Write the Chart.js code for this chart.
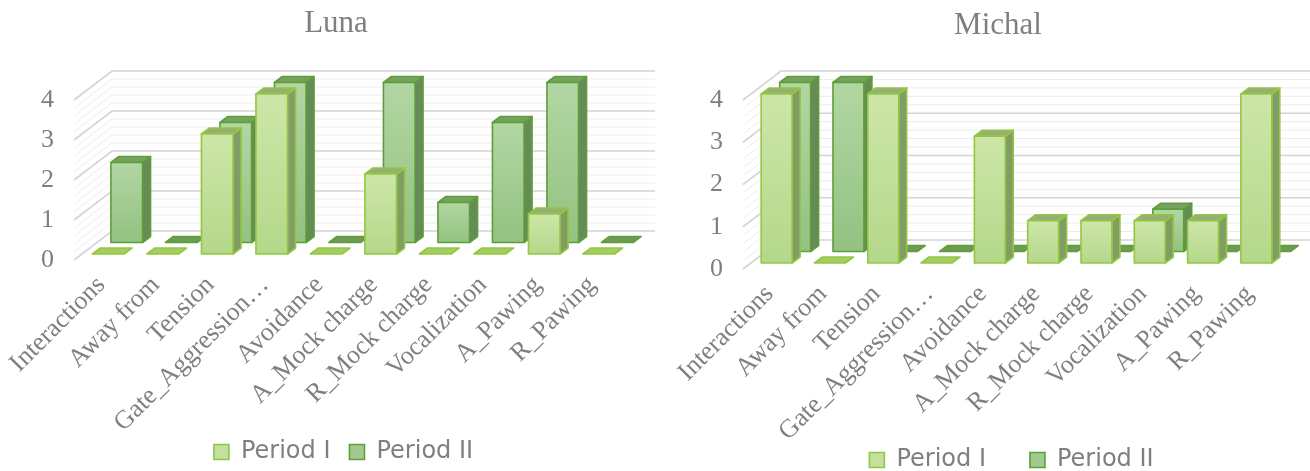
<!DOCTYPE html>
<html>
<head>
<meta charset="utf-8">
<script src="https://cdn.jsdelivr.net/npm/chart.js@4.4.1/dist/chart.umd.min.js"></script>
<style>
  html, body { margin: 0; padding: 0; background: #fff; }
  #wrap { display: flex; width: 1310px; height: 471px; }
  .cell { width: 655px; height: 471px; position: relative; }
</style>
</head>
<body>
<div id="wrap">
  <div class="cell"><canvas id="lunaChart" width="655" height="471"></canvas></div>
  <div class="cell"><canvas id="michalChart" width="655" height="471"></canvas></div>
</div>
<script>
const categories = ["Interactions", "Away from", "Tension", "Gate_Aggression…", "Avoidance",
  "A_Mock charge", "R_Mock charge", "Vocalization", "A_Pawing", "R_Pawing"];
const seriesNames = ["Period I", "Period II"];
const lunaPeriod1 = [0, 0, 3, 4, 0, 2, 0, 0, 1, 0];
const lunaPeriod2 = [2, 0, 3, 4, 0, 4, 1, 3, 4, 0];
const michalPeriod1 = [4, 0, 4, 0, 3, 1, 1, 1, 1, 4];
const michalPeriod2 = [4, 4, 0, 0, 0, 0, 0, 1, 0, 0];
const yMax = 4;

const GREY = "#7f7f7f";
const SERIF = "'Liberation Serif', 'Times New Roman', serif";
const BOX = [8, -6];     // extrusion of each column
const WALL = [38, -29];  // depth of the back wall

// look of the two series, index 0 = front row (Period I), 1 = back row (Period II)
const looks = [
  { face: ["#cde6a8", "#b4d88a"], border: "#92c741", top: "#97ae74", side: "#819c64", slab: "#a5cd62", shift: [7, -6] },
  { face: ["#b2d6a3", "#93c281"], border: "#5e9e3a", top: "#77a25e", side: "#678b56", slab: "#6e9b50", shift: [25.5, -17.5] }
];

function poly(ctx, pts) {
  ctx.beginPath();
  ctx.moveTo(pts[0][0], pts[0][1]);
  for (let i = 1; i < pts.length; i++) ctx.lineTo(pts[i][0], pts[i][1]);
  ctx.closePath();
}

function drawBox(ctx, bar, lk) {
  const p = bar.getProps(["x", "y", "base", "width"], true);
  const l = p.x - p.width / 2 + lk.shift[0];
  const r = p.x + p.width / 2 + lk.shift[0];
  const t = Math.min(p.y, p.base) + lk.shift[1];
  const b = p.base + lk.shift[1];
  const dx = BOX[0], dy = BOX[1];
  ctx.save();
  ctx.lineJoin = "round";
  ctx.strokeStyle = lk.border;
  ctx.lineWidth = 1.6;
  if (b - t < 1) {
    // zero value: only a thin floor plate
    ctx.fillStyle = lk.slab;
    poly(ctx, [[l, b], [r, b], [r + dx, b + dy], [l + dx, b + dy]]);
    ctx.fill();
    ctx.stroke();
    ctx.restore();
    return;
  }
  // side
  ctx.fillStyle = lk.side;
  poly(ctx, [[r, t], [r + dx, t + dy], [r + dx, b + dy], [r, b]]);
  ctx.fill();
  ctx.stroke();
  // top
  ctx.fillStyle = lk.top;
  poly(ctx, [[l, t], [r, t], [r + dx, t + dy], [l + dx, t + dy]]);
  ctx.fill();
  ctx.stroke();
  // front
  const g = ctx.createLinearGradient(0, t, 0, b);
  g.addColorStop(0, lk.face[0]);
  g.addColorStop(1, lk.face[1]);
  ctx.fillStyle = g;
  poly(ctx, [[l, t], [r, t], [r, b], [l, b]]);
  ctx.fill();
  ctx.stroke();
  ctx.restore();
}

const box3d = {
  id: "box3d",
  afterLayout(chart, args, opts) {
    // small nudges so title and legend sit where the original has them
    chart.titleBlock.left += opts.titleX;
    chart.titleBlock.right += opts.titleX;
    chart.legend.left += opts.legendX;
    chart.legend.right += opts.legendX;
    chart.legend.top += opts.legendY;
    chart.legend.bottom += opts.legendY;
    // let the slanted labels run down past the legend box without clipping
    chart.scales.x.bottom = chart.height;
  },
  beforeDatasetsDraw(chart) {
    const ctx = chart.ctx;
    const a = chart.chartArea;
    const y = chart.scales.y;
    ctx.save();
    const steps = Math.round(y.max * 5);
    for (let i = 0; i <= steps; i++) {
      const v = i / 5;
      const major = i % 5 === 0;
      const py = y.getPixelForValue(v);
      ctx.strokeStyle = major ? "#d4d4d4" : "#ececec";
      ctx.lineWidth = major ? 1.6 : 1;
      ctx.beginPath();
      ctx.moveTo(a.left, py);
      ctx.lineTo(a.left + WALL[0], py + WALL[1]);
      ctx.lineTo(a.right + WALL[0], py + WALL[1]);
      ctx.stroke();
    }
    ctx.restore();
  },
  beforeDatasetDraw() {
    return false; // columns are drawn as boxes below
  },
  afterDatasetsDraw(chart) {
    const ctx = chart.ctx;
    [1, 0].forEach(function (di) {
      chart.getDatasetMeta(di).data.forEach(function (bar) {
        drawBox(ctx, bar, looks[di]);
      });
    });
  }
};

function makeChart(id, title, p1, p2, cfg) {
  return new Chart(document.getElementById(id), {
    type: "bar",
    data: {
      labels: categories,
      datasets: [
        { label: seriesNames[0], data: p1, backgroundColor: "#c3e09e", borderColor: looks[0].border, borderWidth: 1.6 },
        { label: seriesNames[1], data: p2, backgroundColor: "#a2ca8f", borderColor: looks[1].border, borderWidth: 1.6 }
      ]
    },
    options: {
      responsive: false,
      animation: false,
      devicePixelRatio: 1,
      layout: { padding: { left: 0, top: 0, bottom: 0, right: cfg.padRight } },
      datasets: { bar: { grouped: false, barPercentage: 0.58, categoryPercentage: 1 } },
      scales: {
        x: {
          grid: { display: false, drawTicks: false },
          border: { display: false },
          ticks: {
            autoSkip: false, maxRotation: 45, minRotation: 45, padding: cfg.xPad,
            color: GREY, font: { family: SERIF, size: 26 }
          },
          afterFit: function (s) { s.height = cfg.xHeight; s.paddingLeft = 0; s.paddingRight = 0; }
        },
        y: {
          min: 0, max: yMax,
          grid: { display: false, drawTicks: false },
          border: { display: false },
          ticks: {
            stepSize: 1, padding: 20, color: GREY,
            font: { family: SERIF, size: 26 }
          },
          afterFit: function (s) { s.width = cfg.yWidth; s.paddingTop = 0; s.paddingBottom = 0; }
        }
      },
      plugins: {
        title: {
          display: true, text: title, color: GREY,
          font: { family: SERIF, size: 31, weight: "normal" },
          padding: { top: cfg.titleTop, bottom: cfg.titleBottom }
        },
        legend: {
          position: "bottom",
          labels: {
            boxWidth: 15, boxHeight: 15, padding: cfg.legendGap, color: GREY,
            font: { family: "'DejaVu Sans', Verdana, sans-serif", size: 24 }
          }
        },
        tooltip: { enabled: false },
        box3d: { titleX: cfg.titleX, legendX: cfg.legendX, legendY: cfg.legendY }
      }
    },
    plugins: [box3d]
  });
}

makeChart("lunaChart", "Luna", lunaPeriod1, lunaPeriod2, {
  yWidth: 74, padRight: 36, xHeight: 158, xPad: 10, titleTop: 5, titleBottom: 57.8,
  legendGap: 19, titleX: 26.5, legendX: 34, legendY: 3
});
makeChart("michalChart", "Michal", michalPeriod1, michalPeriod2, {
  yWidth: 88, padRight: 34, xHeight: 124, xPad: 10, titleTop: 7, titleBottom: 55.8,
  legendGap: 44, titleX: 32.5, legendX: 46, legendY: 11
});
</script>
</body>
</html>
